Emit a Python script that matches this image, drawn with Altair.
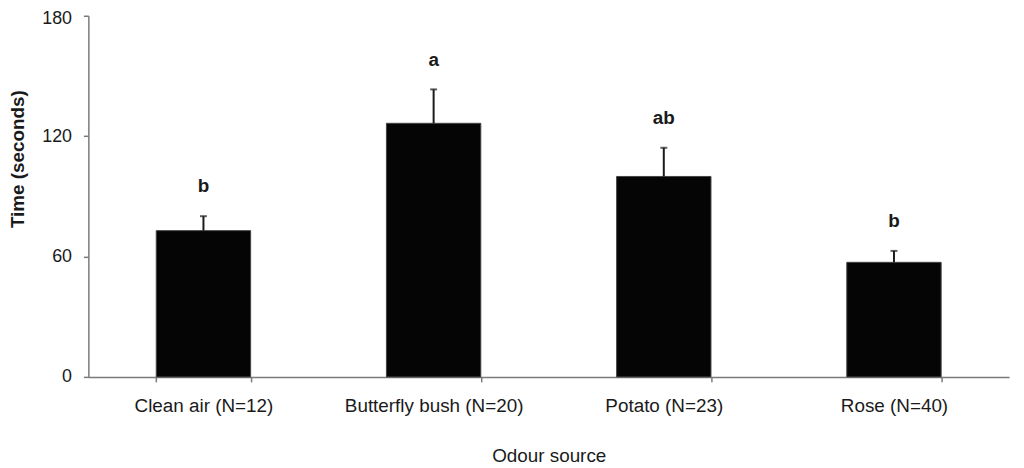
import altair as alt
import pandas as pd

categories = ["Clean air (N=12)", "Butterfly bush (N=20)", "Potato (N=23)", "Rose (N=40)"]
means = [72.9, 126.4, 99.9, 57.1]
upper = [80.1, 143.3, 114.2, 62.8]
letters = ["b", "a", "ab", "b"]
y_ticks = [0, 60, 120, 180]

df = pd.DataFrame({"source": categories, "mean": means, "upper": upper, "letter": letters})

FONT = "Liberation Sans"
AX = "#7a7a7a"
TXT = "#1a1a1a"

x_axis = alt.Axis(
    labelAngle=0, tickBand="extent", title="Odour source", labelLimit=0,
    labelFontSize=19, labelColor=TXT, labelFont=FONT, labelPadding=15,
    titleFontSize=19, titleColor=TXT, titleFont=FONT, titleFontWeight="normal",
    titlePadding=31, domainColor=AX, tickColor=AX, tickSize=5, domainWidth=1.5, tickWidth=1.5,
    grid=False,
)
x_scale = alt.Scale(paddingInner=0.59, paddingOuter=0.295)

y_axis = alt.Axis(
    values=y_ticks, title="Time (seconds)",
    labelFontSize=18, labelColor=TXT, labelFont=FONT, labelPadding=12,
    labelOffset=alt.condition("datum.value == 180", alt.value(3), alt.value(0)),
    titleFontSize=19, titleColor=TXT, titleFont=FONT, titleFontWeight="bold",
    titleX=-71, titleY=144, titleAlign="center", titleBaseline="middle", titleAngle=270,
    domainColor=AX, tickColor=AX, tickSize=5, domainWidth=1.5, tickWidth=1.5,
    grid=False,
)
y_scale = alt.Scale(domain=[0, 180], nice=False)

base = alt.Chart(df)
X = alt.X("source:N", sort=categories, scale=x_scale, axis=x_axis)

bars = base.mark_bar(color="#050505", stroke="#444", strokeWidth=1).encode(
    x=X,
    y=alt.Y("mean:Q", scale=y_scale, axis=y_axis),
)

rules = base.mark_rule(color="#1a1a1a", strokeWidth=2).encode(
    x=X,
    y=alt.Y("mean:Q", scale=y_scale, axis=y_axis),
    y2="upper:Q",
)

caps = base.mark_tick(color="#1a1a1a", size=7, thickness=2).encode(
    x=X,
    y=alt.Y("upper:Q", scale=y_scale, axis=y_axis),
)

labels = base.mark_text(
    baseline="bottom", dy=-20, fontSize=19, fontWeight="bold", font=FONT, color=TXT
).encode(
    x=X,
    y=alt.Y("upper:Q", scale=y_scale, axis=y_axis),
    text="letter:N",
)

chart = alt.layer(bars, rules, caps, labels).properties(
    width=928, height=364,
    background="white",
    autosize=alt.AutoSizeParams(type="none"),
    padding={"left": 81, "top": 6, "right": 7, "bottom": 90},
).configure_view(stroke=None)

chart.save("out.html", embed_options={"renderer": "svg", "actions": False})
